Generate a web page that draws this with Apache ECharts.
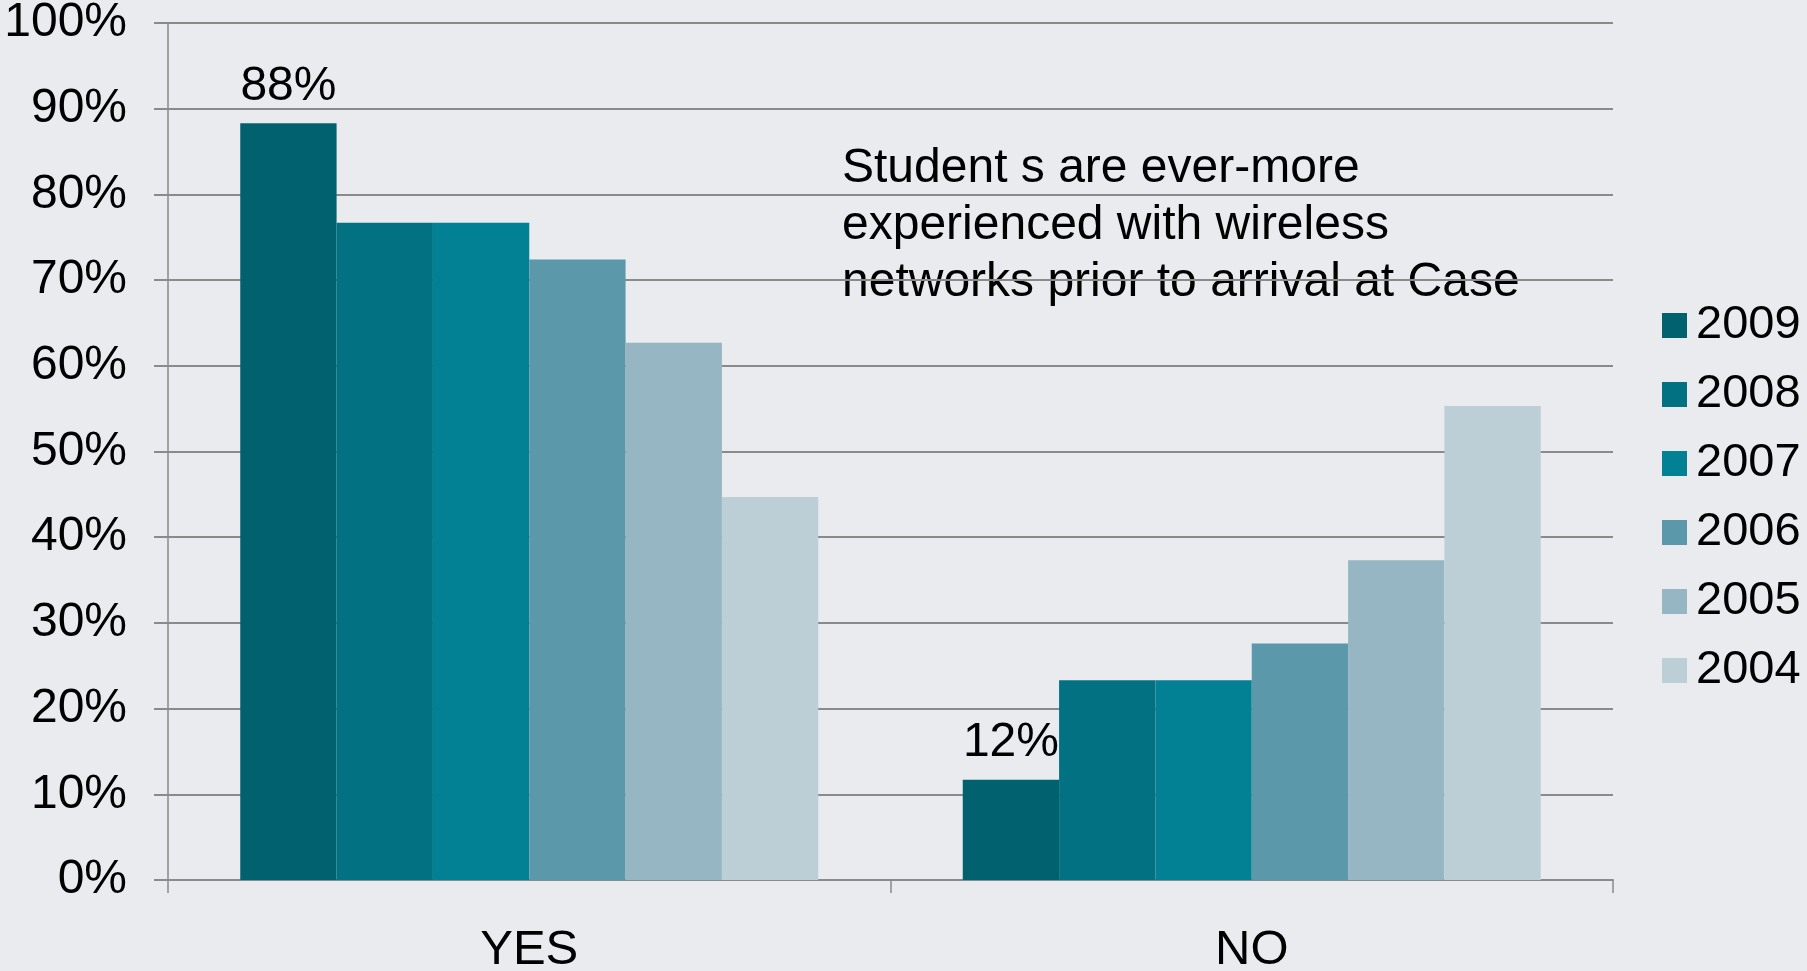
<!DOCTYPE html>
<html>
<head>
<meta charset="utf-8">
<script src="https://cdn.jsdelivr.net/npm/echarts@6/dist/echarts.min.js"></script>
<style>
html,body{margin:0;padding:0;background:#e9ebef;}
#chart{width:1807px;height:971px;}
</style>
</head>
<body>
<div id="chart"></div>
<script>
const categories = ['YES', 'NO'];
const years = ['2009', '2008', '2007', '2006', '2005', '2004'];
const values2009 = [88.3, 11.7];
const values2008 = [76.7, 23.3];
const values2007 = [76.7, 23.3];
const values2006 = [72.4, 27.6];
const values2005 = [62.7, 37.3];
const values2004 = [44.7, 55.3];
const yTickLabels = [0, 10, 20, 30, 40, 50, 60, 70, 80, 90, 100];
const annotationLines = ['Student s are ever-more', 'experienced with wireless', 'networks prior to arrival at Case'];

const seriesValues = [values2009, values2008, values2007, values2006, values2005, values2004];
const colors = ['#02616f', '#027283', '#028094', '#5b98aa', '#97b6c3', '#bccfd6'];
const FONT = "'Liberation Sans', Arial, sans-serif";

const chart = echarts.init(document.getElementById('chart'));
chart.setOption({
  backgroundColor: '#e9ebef',
  animation: false,
  grid: { left: 168, right: 194, top: 23, bottom: 91, containLabel: false, outerBoundsMode: 'none' },
  legend: {
    orient: 'vertical',
    left: 1657,
    top: 297,
    itemWidth: 25,
    itemHeight: 25,
    itemGap: 22,
    icon: 'rect',
    textStyle: { fontFamily: FONT, fontSize: 47, color: '#000', lineHeight: 47, padding: [0, 0, 0, 4] },
    data: years
  },
  xAxis: {
    type: 'category',
    data: categories,
    axisLine: { lineStyle: { color: '#8a8a8a', width: 2 } },
    axisTick: { show: true, length: 13, lineStyle: { color: '#8a8a8a', width: 1.5 } },
    axisLabel: { fontFamily: FONT, fontSize: 49, color: '#000', margin: 46 }
  },
  yAxis: {
    type: 'value',
    min: 0,
    max: 100,
    interval: 10,
    axisLine: { show: true, lineStyle: { color: '#8a8a8a', width: 1.5 } },
    axisTick: { show: true, length: 14, lineStyle: { color: '#8a8a8a', width: 2 } },
    axisLabel: {
      fontFamily: FONT, fontSize: 48, color: '#000', margin: 41,
      formatter: function (v) { return yTickLabels.indexOf(v) >= 0 ? v + '%' : ''; }
    },
    splitLine: { lineStyle: { color: '#8a8a8a', width: 2 } }
  },
  series: years.map(function (y, i) {
    return {
      name: y,
      type: 'bar',
      data: seriesValues[i],
      barGap: '0%',
      barCategoryGap: '20%',
      itemStyle: { color: colors[i] },
      label: {
        show: i === 0,
        position: 'top',
        distance: 13,
        fontFamily: FONT,
        fontSize: 48,
        color: '#000',
        formatter: function (p) { return Math.round(p.value) + '%'; }
      }
    };
  }),
  graphic: [{
    type: 'text',
    left: 842,
    top: 140,
    style: {
      text: annotationLines.join('\n'),
      fontFamily: FONT,
      fontSize: 48,
      lineHeight: 57,
      fill: '#000'
    }
  }]
});
</script>
</body>
</html>
